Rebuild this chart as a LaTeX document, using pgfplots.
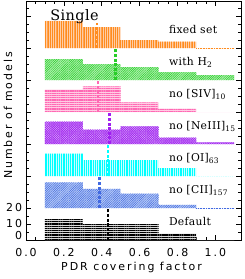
\documentclass[border=0pt]{standalone}
\usepackage{pgfplots}
\pgfplotsset{compat=1.18}
\usepackage{pgfplotstable}
\usepackage{fontspec}
\setmainfont{DejaVu Serif}
\newfontfamily\hsans[LetterSpace=18]{DejaVu Sans}
\newfontfamily\hserif[LetterSpace=3]{DejaVu Serif}
\usetikzlibrary{patterns.meta}

\definecolor{corange}{RGB}{255,140,30}
\definecolor{corangeL}{RGB}{255,205,165}
\definecolor{cgreen}{RGB}{40,205,40}
\definecolor{cgreenL}{RGB}{175,240,175}
\definecolor{cpink}{RGB}{255,105,180}
\definecolor{cpinkL}{RGB}{255,205,228}
\definecolor{cpurple}{RGB}{160,32,240}
\definecolor{cpurpleL}{RGB}{220,180,250}
\definecolor{ccyan}{RGB}{0,255,255}
\definecolor{ccyanL}{RGB}{200,255,255}
\definecolor{cblue}{RGB}{65,105,225}
\definecolor{cblueL}{RGB}{185,205,245}

% histogram counts per bin (bins 0.1-0.3, 0.3-0.5, 0.5-0.7, 0.7-0.9, 0.9-1.1)
\pgfplotstableread{
x    fixed h2 siv neiii oi cii def
0.1  0     0  0   0     0  0   0
0.1  17    13 14  14    14 16  13
0.3  13    10 16  9     10 12  10
0.5  5     8  6   11    10 9   10
0.7  4     5  2   4     5  2   4
0.9  0     3  0   1     0  0   0
1.1  0     0  0   0     0  0   0
}\hist

\begin{document}
\begin{tikzpicture}
\begin{axis}[
  scale only axis, width=215bp, height=239bp,
  xmin=0, xmax=1.135, ymin=0, ymax=149.4,
  axis line style={line width=0.8bp},
  every tick/.style={line width=0.7bp, black},
  xtick={0,0.2,0.4,0.6,0.8,1.0},
  xticklabels={0.0,0.2,0.4,0.6,0.8,1.0},
  minor x tick num=3,
  ytick={10,20,40,60,80,100,120,140},
  yticklabels={10,20,{},{},{},{},{},{}},
  extra y ticks={0}, extra y tick labels={0},
  extra y tick style={yticklabel style={yshift=4bp}},
  minor ytick={5,15,25,30,35,45,50,55,65,70,75,85,90,95,105,110,115,125,130,135,145},
  tick align=inside, major tick length=5bp, minor tick length=2.6bp,
  ticklabel style={font=\hsans\fontsize{11}{11}\selectfont},
  xticklabel style={yshift=-5bp},
  yticklabel style={xshift=-0.5bp},
  xlabel={PDR covering factor},
  ylabel={Number of models},
  xlabel style={at={(axis description cs:0.491,-0.113)}, anchor=center, font=\hsans\fontsize{11}{13}\selectfont},
  ylabel style={at={(axis description cs:-0.084,0.521)}, anchor=center, font=\hsans\fontsize{11}{13}\selectfont},
  clip=false,
]
% fixed set
\addplot[const plot, draw=none, fill=corangeL,
  postaction={pattern={Lines[angle=90,distance=1.8bp,line width=0.6bp]}, pattern color=corange}]
  table[x=x, y expr=\thisrow{fixed}+120] {\hist} -- cycle;
\addplot[corange, densely dotted, line width=0.6bp] coordinates {(0.9,120) (1.1,120)};
% with H2
\addplot[const plot, draw=none, fill=cgreenL,
  postaction={pattern={Lines[angle=45,distance=1.6bp,line width=0.5bp]}, pattern color=cgreen}]
  table[x=x, y expr=\thisrow{h2}+100] {\hist} -- cycle;
% no SIV
\addplot[const plot, draw=none, fill=cpinkL,
  postaction={pattern={Lines[angle=0,distance=1.8bp,line width=0.6bp]}, pattern color=cpink}]
  table[x=x, y expr=\thisrow{siv}+80] {\hist} -- cycle;
% no NeIII
\addplot[const plot, draw=none, fill=cpurpleL,
  postaction={pattern={Lines[angle=45,distance=1.6bp,line width=0.5bp]}, pattern color=cpurple},
  postaction={pattern={Lines[angle=-45,distance=1.6bp,line width=0.5bp]}, pattern color=cpurple}]
  table[x=x, y expr=\thisrow{neiii}+60] {\hist} -- cycle;
% no OI
\addplot[const plot, draw=none, fill=ccyanL,
  postaction={pattern={Lines[angle=90,distance=1.8bp,line width=0.8bp]}, pattern color=ccyan}]
  table[x=x, y expr=\thisrow{oi}+40] {\hist} -- cycle;
% no CII
\addplot[const plot, draw=none, fill=cblueL,
  postaction={pattern={Lines[angle=45,distance=1.6bp,line width=0.5bp]}, pattern color=cblue}]
  table[x=x, y expr=\thisrow{cii}+20] {\hist} -- cycle;
\addplot[cblue, densely dotted, line width=0.6bp] coordinates {(0.9,20) (1.1,20)};
% Default
\addplot[const plot, draw=none, fill=gray!30,
  postaction={pattern={Lines[angle=0,distance=2.2bp,line width=1.3bp]}, pattern color=black}]
  table[x=x, y expr=\thisrow{def}+0] {\hist} -- cycle;

% mean covering factors
\addplot[corange, line width=2.2bp, dash pattern=on 3bp off 1.6bp] coordinates {(0.376,120) (0.376,135.5)};
\addplot[cgreen, line width=2.2bp, dash pattern=on 3bp off 1.6bp] coordinates {(0.472,100) (0.472,120)};
\addplot[cpink, line width=2.2bp, dash pattern=on 3bp off 1.6bp] coordinates {(0.381,80) (0.381,100)};
\addplot[cpurple, line width=2.2bp, dash pattern=on 3bp off 1.6bp] coordinates {(0.441,60) (0.441,80)};
\addplot[ccyan, line width=2.2bp, dash pattern=on 3bp off 1.6bp] coordinates {(0.434,40) (0.434,60)};
\addplot[cblue, line width=2.2bp, dash pattern=on 3bp off 1.6bp] coordinates {(0.388,20) (0.388,40)};
\addplot[black, line width=2.2bp, dash pattern=on 3bp off 1.6bp] coordinates {(0.434,0) (0.434,20)};

% labels
\begin{scope}[every node/.style={anchor=base west, inner sep=0pt, font=\hserif\fontsize{10.8}{12}\selectfont}]
\node at (axis cs:0.754,129) {fixed set};
\node at (axis cs:0.754,109) {with H\textsubscript{2}};
\node at (axis cs:0.754,89) {no [SIV]\textsubscript{10}};
\node at (axis cs:0.754,69) {no [NeIII]\textsubscript{15}};
\node at (axis cs:0.754,49) {no [OI]\textsubscript{63}};
\node at (axis cs:0.754,29) {no [CII]\textsubscript{157}};
\node at (axis cs:0.754,9) {Default};
\end{scope}
\node[anchor=base west, inner sep=0pt, font=\fontsize{14.5}{16}\selectfont\addfontfeatures{LetterSpace=3}] at (axis cs:0.127,136.9) {Single};
\end{axis}
\pgfresetboundingbox
\path ([shift={(-26bp,-39bp)}]current axis.south west) rectangle ([shift={(4bp,1bp)}]current axis.north east);
\end{tikzpicture}
\end{document}
